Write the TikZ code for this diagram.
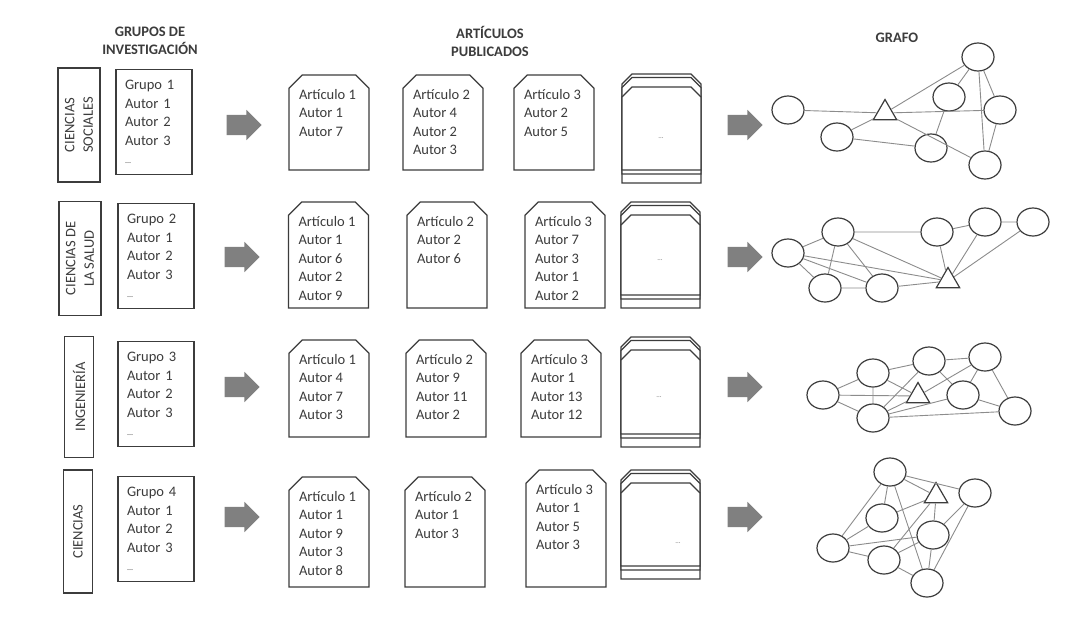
\documentclass[tikz,border=0pt]{standalone}
\usepackage{fontspec}
\setmainfont{Carlito}
\usepackage{tikz}
\usetikzlibrary{shapes.misc,shapes.arrows,shapes.geometric}
\definecolor{ink}{HTML}{3C3C3C}
\definecolor{wire}{HTML}{8C8C8C}
\definecolor{block}{HTML}{808080}

\begin{document}
\begin{tikzpicture}[x=1pt, y=-1pt, every node/.style={font=\fontsize{14.5}{18.6}\selectfont, text=ink}, head/.style={font=\fontsize{14.5}{18}\selectfont\bfseries, align=center}, cat/.style={draw=ink, line width=1.3pt, rotate=90, align=center, inner sep=0pt, minimum width=114pt, minimum height=42pt}, grp/.style={draw=ink, line width=1.3pt, align=left, text width=58pt, inner xsep=9pt, minimum height=105pt}, art/.style={chamfered rectangle, chamfered rectangle corners={north west,north east}, chamfered rectangle xsep=10pt, draw=ink, line width=1.3pt, fill=white, inner sep=0pt, minimum width=79pt, minimum height=#1, execute at begin node={\begin{minipage}[t][\dimexpr#1-28pt][t]{60pt}}, execute at end node={\end{minipage}}}, etc/.style={font=\fontsize{7}{8}\selectfont, text=black!55}, blk/.style={single arrow, fill=block, minimum height=35pt, minimum width=30pt, single arrow head extend=5pt, inner xsep=0pt, inner ysep=10pt}, vtx/.style={ellipse, draw=ink, line width=1.2pt, fill=white, minimum width=32pt, minimum height=28pt, inner sep=0pt}, tri/.style={regular polygon, regular polygon sides=3, draw=ink, line width=1.2pt, minimum size=27pt, inner sep=0pt}, lnk/.style={wire, line width=0.9pt}]
\fill[white] (0,0) rectangle (1076,630);
\node[head] (hgrp) at (150,41) {GRUPOS DE\\INVESTIGACIÓN};
\node[head] (hart) at (490,41) {ARTÍCULOS\\PUBLICADOS};
\node[head] (hgra) at (897,38) {GRAFO};

\node[cat] (cat1) at (79,125) {CIENCIAS\\SOCIALES};
\node[grp] (grp1) at (154,122) {Grupo 1\\Autor 1\\Autor 2\\Autor 3\\{\fontsize{8}{8}\selectfont ...}};
\node[blk] (go1) at (239,125) {};
\node[art=95pt] (art11) at (329,122.5) {Artículo 1\\Autor 1\\Autor 7};
\node[art=95pt] (art12) at (443,122.5) {Artículo 2\\Autor 4\\Autor 2\\Autor 3};
\node[art=95pt] (art13) at (554,122.5) {Artículo 3\\Autor 2\\Autor 5};
\node[art=109pt] (stk1a) at (661.5,128.5) {};
\node[art=96.5pt] (stk1b) at (661.5,125.75) {};
\node[art=83pt] (stk1c) at (661.5,128.5) {};
\node[etc] (more1) at (661,138) {...};
\node[blk] (to1) at (740,125) {};

\node[cat] (cat2) at (80,258.5) {CIENCIAS DE\\LA SALUD};
\node[grp] (grp2) at (156,256) {Grupo 2\\Autor 1\\Autor 2\\Autor 3\\{\fontsize{8}{8}\selectfont ...}};
\node[blk] (go2) at (237,257) {};
\node[art=106pt] (art21) at (328.5,255) {Artículo 1\\Autor 1\\Autor 6\\Autor 2\\Autor 9};
\node[art=106pt] (art22) at (447,255) {Artículo 2\\Autor 2\\Autor 6};
\node[art=106pt] (art23) at (565,255) {Artículo 3\\Autor 7\\Autor 3\\Autor 1\\Autor 2};
\node[art=106pt] (stk2a) at (660.5,255) {};
\node[art=93.5pt] (stk2b) at (660.5,252.25) {};
\node[art=80pt] (stk2c) at (660.5,255) {};
\node[etc] (more2) at (660,260) {...};
\node[blk] (to2) at (740,257) {};

\node[cat, minimum height=29pt, minimum width=121pt] (cat3) at (79,397) {INGENIERÍA};
\node[grp] (grp3) at (156,394) {Grupo 3\\Autor 1\\Autor 2\\Autor 3\\{\fontsize{8}{8}\selectfont ...}};
\node[blk] (go3) at (237,387) {};
\node[art=97pt] (art31) at (329,388.5) {Artículo 1\\Autor 4\\Autor 7\\Autor 3};
\node[art=97pt] (art32) at (446,388.5) {Artículo 2\\Autor 9\\Autor 11\\Autor 2};
\node[art=97pt] (art33) at (561,388.5) {Artículo 3\\Autor 1\\Autor 13\\Autor 12};
\node[art=110pt] (stk3a) at (660.5,392) {};
\node[art=97.5pt] (stk3b) at (660.5,389.25) {};
\node[art=84pt] (stk3c) at (660.5,392) {};
\node[etc] (more3) at (659,397) {...};
\node[blk] (to3) at (740,387) {};

\node[cat, minimum height=29pt, minimum width=123pt] (cat4) at (78,531.5) {CIENCIAS};
\node[grp] (grp4) at (156,529) {Grupo 4\\Autor 1\\Autor 2\\Autor 3\\{\fontsize{8}{8}\selectfont ...}};
\node[blk] (go4) at (237,517) {};
\node[art=110pt] (art41) at (329,532) {Artículo 1\\Autor 1\\Autor 9\\Autor 3\\Autor 8};
\node[art=110pt] (art42) at (445,532) {Artículo 2\\Autor 1\\Autor 3};
\node[art=117pt] (art43) at (566,528.5) {Artículo 3\\Autor 1\\Autor 5\\Autor 3};
\node[art=109pt] (stk4a) at (660.5,524.5) {};
\node[art=96.5pt] (stk4b) at (660.5,521.75) {};
\node[art=83pt] (stk4c) at (660.5,524.5) {};
\node[etc] (more4) at (678,543) {...};
\node[blk] (to4) at (740,517) {};

\node[vtx] (r1a) at (788,110) {};
\node[tri] (r1t) at (885,113) {};
\node[vtx] (r1b) at (837,137) {};
\node[vtx] (r1c) at (949,97) {};
\node[vtx] (r1d) at (978,57) {};
\node[vtx] (r1e) at (1000,110) {};
\node[vtx] (r1f) at (931,148) {};
\node[vtx] (r1g) at (985,165) {};
\draw[lnk] (r1a)--(r1t) (r1t)--(r1b) (r1t)--(r1d) (r1t)--(r1e) (r1t)--(r1g);
\draw[lnk] (r1b)--(r1f) (r1c)--(r1f) (r1c)--(r1d) (r1d)--(r1e) (r1d)--(r1g) (r1e)--(r1g);

\node[vtx] (r2a) at (788,253) {};
\node[vtx] (r2b) at (838,232) {};
\node[vtx] (r2c) at (825,288) {};
\node[vtx] (r2d) at (882,288) {};
\node[vtx] (r2e) at (937,232) {};
\node[vtx] (r2f) at (985,222) {};
\node[vtx] (r2g) at (1033,222) {};
\node[tri] (r2t) at (948,281) {};
\draw[lnk] (r2a)--(r2b) (r2a)--(r2c) (r2a)--(r2d) (r2a)--(r2t) (r2b)--(r2c) (r2b)--(r2d) (r2b)--(r2e) (r2b)--(r2t);
\draw[lnk] (r2c)--(r2d) (r2d)--(r2t) (r2e)--(r2t) (r2e)--(r2f) (r2f)--(r2g) (r2f)--(r2t) (r2g)--(r2t);

\node[vtx] (r3a) at (823,395) {};
\node[vtx] (r3b) at (873,373) {};
\node[vtx] (r3c) at (873,418) {};
\node[vtx] (r3d) at (929,361) {};
\node[vtx] (r3e) at (985,357) {};
\node[vtx] (r3f) at (963,395) {};
\node[vtx] (r3g) at (1015,411) {};
\node[tri] (r3t) at (918,396) {};
\draw[lnk] (r3a)--(r3b) (r3a)--(r3c) (r3a)--(r3t) (r3b)--(r3c) (r3b)--(r3d) (r3b)--(r3t) (r3c)--(r3d) (r3c)--(r3t);
\draw[lnk] (r3c)--(r3f) (r3c)--(r3g) (r3d)--(r3e) (r3d)--(r3f) (r3t)--(r3e) (r3e)--(r3f) (r3e)--(r3g) (r3f)--(r3g);

\node[vtx] (r4a) at (890,472) {};
\node[tri] (r4t) at (936,496) {};
\node[vtx] (r4b) at (975,493) {};
\node[vtx] (r4c) at (882,518) {};
\node[vtx] (r4d) at (933,535) {};
\node[vtx] (r4e) at (833,548) {};
\node[vtx] (r4f) at (884,560) {};
\node[vtx] (r4g) at (927,583) {};
\draw[lnk] (r4a)--(r4b) (r4a)--(r4t) (r4a)--(r4c) (r4a)--(r4e) (r4a)--(r4g) (r4t)--(r4c) (r4t)--(r4f) (r4t)--(r4d);
\draw[lnk] (r4e)--(r4c) (r4e)--(r4d) (r4e)--(r4f) (r4f)--(r4g) (r4f)--(r4d) (r4d)--(r4g) (r4b)--(r4d) (r4b)--(r4g);
\end{tikzpicture}
\end{document}
